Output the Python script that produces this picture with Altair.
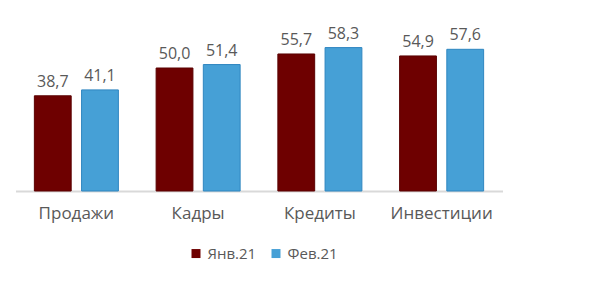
import altair as alt
import pandas as pd

categories = ["Продажи", "Кадры", "Кредиты", "Инвестиции"]
series = ["Янв.21", "Фев.21"]
jan = [38.7, 50.0, 55.7, 54.9]
feb = [41.1, 51.4, 58.3, 57.6]
colors = ["#6E0000", "#46A0D6"]
strokes = ["#5A0000", "#2F86C0"]

rows = []
for i, c in enumerate(categories):
    rows.append({"cat": c, "series": series[0], "v": jan[i]})
    rows.append({"cat": c, "series": series[1], "v": feb[i]})
df = pd.DataFrame(rows)

FONT = "Open Sans"
GREY = "#595959"

x = alt.X("cat:N", sort=categories, title=None,
          scale=alt.Scale(paddingInner=0.31, paddingOuter=0.155),
          axis=alt.Axis(labelAngle=0, ticks=False, domainColor="#D9D9D9", domainWidth=2,
                        labelFont=FONT, labelFontSize=17, labelColor=GREY, labelPadding=14))
xo = alt.XOffset("series:N", sort=series, scale=alt.Scale(paddingInner=0.22, paddingOuter=0))
y = alt.Y("v:Q", scale=alt.Scale(domain=[0, 70]), axis=None)

base = alt.Chart(df)

bars = base.mark_bar(strokeWidth=1).encode(
    x=x, xOffset=xo, y=y,
    color=alt.Color("series:N", sort=series, title=None,
                    scale=alt.Scale(domain=series, range=colors),
                    legend=alt.Legend(orient="none", legendX=173, legendY=227, direction="horizontal",
                                      symbolType="square", symbolSize=81, symbolStrokeWidth=0,
                                      labelFont=FONT, labelFontSize=15, labelColor=GREY,
                                      labelOffset=4, columnPadding=12)),
    stroke=alt.Stroke("series:N", sort=series, scale=alt.Scale(domain=series, range=strokes), legend=None),
)

labels = base.transform_calculate(
    lab="replace(format(datum.v, '.1f'), '.', ',')"
).mark_text(font=FONT, fontSize=16, color=GREY, baseline="bottom", dy=-6).encode(
    x=x, xOffset=xo, y=y, text="lab:N"
)

chart = (bars + labels).properties(
    width=487, height=172.2,
    background="white",
    autosize=alt.AutoSizeParams(type="none"),
    padding={"left": 15.5, "top": 18.8, "right": 99.5, "bottom": 90},
).configure_view(stroke=None)

chart.save("out.html", embed_options={"renderer": "svg", "actions": False})
